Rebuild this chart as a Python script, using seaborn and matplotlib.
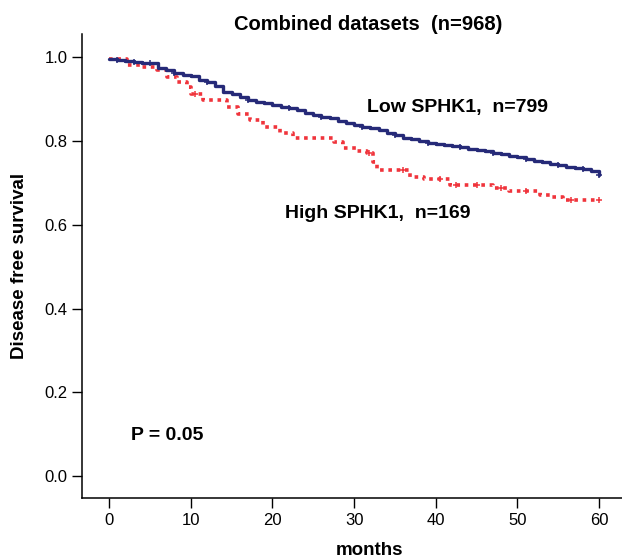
import numpy as np
import pandas as pd
import seaborn as sns
import matplotlib.pyplot as plt

# Kaplan-Meier curves, combined datasets

low_t = [0, 1, 2, 3, 4, 5, 6, 7, 8, 9, 10, 11, 12, 13, 14, 15, 16, 17, 18, 19, 20,
         21, 22, 23, 24, 25, 26, 27, 28, 29, 30, 31, 32, 33, 34, 35, 36, 37, 38, 39, 40,
         41, 42, 43, 44, 45, 46, 47, 48, 49, 50, 51, 52, 53, 54, 55, 56, 57, 58, 59, 60]
low_s = [0.995, 0.993, 0.990, 0.988, 0.987, 0.985, 0.975, 0.969, 0.962, 0.957, 0.955,
         0.946, 0.940, 0.930, 0.918, 0.913, 0.905, 0.898, 0.893, 0.890, 0.886,
         0.882, 0.878, 0.874, 0.866, 0.862, 0.857, 0.854, 0.848, 0.842, 0.838,
         0.833, 0.830, 0.826, 0.820, 0.814, 0.808, 0.804, 0.800, 0.795, 0.792,
         0.790, 0.787, 0.785, 0.781, 0.778, 0.775, 0.772, 0.768, 0.765, 0.761,
         0.757, 0.753, 0.750, 0.746, 0.742, 0.739, 0.736, 0.733, 0.728, 0.720]

high_t = [0, 2.2, 3.8, 5.9, 7.1, 8.3, 9.5, 10, 11.5, 14.5, 15.8, 17.3, 18.8, 20.9,
          22.5, 27.5, 28.6, 30.4, 31.6, 32.3, 32.8, 36.8, 38.5, 41.8, 47, 49, 52.8,
          54, 55.6, 60]
high_s = [0.995, 0.981, 0.977, 0.969, 0.953, 0.941, 0.929, 0.913, 0.897, 0.881,
          0.864, 0.851, 0.834, 0.818, 0.808, 0.798, 0.783, 0.775, 0.771, 0.750,
          0.730, 0.714, 0.710, 0.695, 0.687, 0.680, 0.671, 0.666, 0.659, 0.659]

low_censor = [1, 3, 5, 8, 12, 17, 22, 26, 31, 35, 39, 43, 47, 51, 55, 58, 60]
high_censor = [10.5, 31.8, 36, 40.5, 42.5, 45, 48, 51, 56.5, 60]

navy = '#262a78'
red = '#f0343c'


def step_at(times, surv, c):
    idx = np.searchsorted(times, c, side='right') - 1
    return np.array(surv)[idx]


sns.set_style('ticks')
plt.rcParams['font.family'] = ['Liberation Sans', 'DejaVu Sans']
plt.rcParams['text.color'] = 'black'
plt.rcParams['axes.labelcolor'] = 'black'

fig, ax = plt.subplots(figsize=(6.22, 5.59), dpi=100)
fig.subplots_adjust(left=0.132, right=1.0, bottom=0.109, top=0.939)

low = pd.DataFrame({'months': low_t, 'surv': low_s})
high = pd.DataFrame({'months': high_t, 'surv': high_s})

sns.lineplot(data=high, x='months', y='surv', ax=ax, estimator=None,
             drawstyle='steps-post', color=red, linewidth=2.6,
             linestyle=(0, (1, 1.3)), dash_capstyle='butt')
sns.lineplot(data=low, x='months', y='surv', ax=ax, estimator=None,
             drawstyle='steps-post', color=navy, linewidth=2.4)

ax.scatter(high_censor, step_at(high_t, high_s, high_censor), marker='+',
           color=red, s=20, linewidths=1.1, zorder=3)
ax.scatter(low_censor, step_at(low_t, low_s, low_censor), marker='+',
           color=navy, s=20, linewidths=1.1, zorder=4)

ax.set_xlim(-3.3, 62.8)
ax.set_ylim(-0.052, 1.055)
ax.set_xticks([0, 10, 20, 30, 40, 50, 60])
ax.set_yticks([0.0, 0.2, 0.4, 0.6, 0.8, 1.0])
ax.set_yticklabels(['0.0', '0.2', '0.4', '0.6', '0.8', '1.0'])
ax.tick_params(labelsize=12, length=7, width=1, color='black', labelcolor='black')
for s in ['left', 'bottom']:
    ax.spines[s].set_color('black')
    ax.spines[s].set_linewidth(1.1)
sns.despine(ax=ax)

ax.set_xlabel('months', fontsize=13.5, fontweight='bold')
ax.xaxis.set_label_coords(0.533, -0.095)
ax.set_ylabel('Disease free survival', fontsize=13.5, fontweight='bold', labelpad=12)

fig.text(368 / 622, 1 - 25 / 559, 'Combined datasets  (n=968)', ha='center',
         va='center', fontsize=14.5, fontweight='bold')
ax.text(31.6, 0.881, 'Low SPHK1,  n=799', fontsize=14, fontweight='bold',
        ha='left', va='center')
ax.text(21.6, 0.628, 'High SPHK1,  n=169', fontsize=14, fontweight='bold',
        ha='left', va='center')
ax.text(2.7, 0.098, 'P = 0.05', fontsize=14, fontweight='bold', ha='left', va='center')

plt.savefig('out.png', dpi=100)
